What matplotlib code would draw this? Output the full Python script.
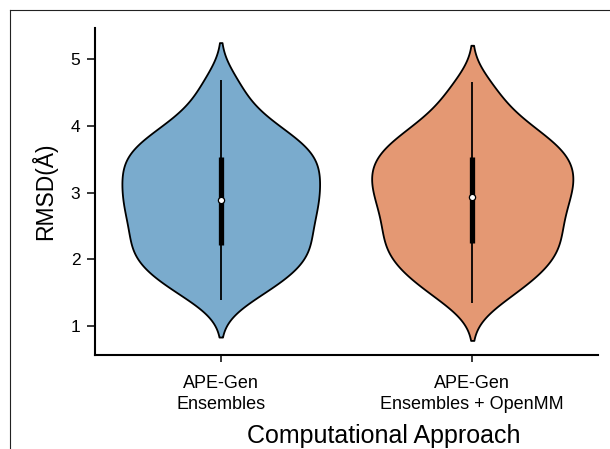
import numpy as np
import matplotlib
matplotlib.use('Agg')
import matplotlib.pyplot as plt
from matplotlib.lines import Line2D

categories = ['APE-Gen\nEnsembles', 'APE-Gen\nEnsembles + OpenMM']

# RMSD values (Å) per approach
rmsd_ensembles = [1.39, 1.54, 1.65, 1.74, 1.82, 1.90, 1.97, 2.04, 2.11, 2.17,
                  2.22, 2.31, 2.38, 2.44, 2.51, 2.58, 2.65, 2.71, 2.77, 2.84,
                  2.89, 2.96, 3.02, 3.08, 3.15, 3.21, 3.27, 3.33, 3.39, 3.45,
                  3.53, 3.58, 3.64, 3.70, 3.77, 3.85, 3.94, 4.05, 4.19, 4.40,
                  4.69]
rmsd_openmm = [1.34, 1.51, 1.63, 1.73, 1.82, 1.90, 1.97, 2.05, 2.12, 2.19,
               2.25, 2.32, 2.39, 2.46, 2.53, 2.60, 2.67, 2.73, 2.80, 2.87,
               2.93, 2.99, 3.05, 3.11, 3.17, 3.23, 3.29, 3.35, 3.41, 3.47,
               3.53, 3.59, 3.65, 3.72, 3.79, 3.87, 3.96, 4.07, 4.21, 4.40,
               4.65]

colors = ['#7aabcd', '#e49873']
bw = 0.278
cut = 2
width = 0.8

plt.rcParams['font.family'] = ['Liberation Sans', 'DejaVu Sans']


def kde(values, grid):
    values = np.asarray(values)
    z = (grid[:, None] - values[None, :]) / bw
    return np.exp(-0.5 * z ** 2).sum(axis=1) / (len(values) * bw * np.sqrt(2 * np.pi))


groups = [rmsd_ensembles, rmsd_openmm]
curves = []
for vals in groups:
    grid = np.linspace(min(vals) - cut * bw, max(vals) + cut * bw, 300)
    curves.append((grid, kde(vals, grid)))
peak = max(d.max() for g, d in curves)

fig, ax = plt.subplots(figsize=(6.1, 4.49), dpi=100)
fig.subplots_adjust(left=95 / 610, right=598 / 610, bottom=1 - 355 / 449, top=1 - 28.3 / 449)

for i, ((grid, dens), vals) in enumerate(zip(curves, groups)):
    half = dens / peak * width / 2
    ax.fill_betweenx(grid, i - half, i + half, facecolor=colors[i],
                     edgecolor='black', linewidth=1.3, zorder=1)
    q1, med, q3 = np.percentile(vals, [25, 50, 75])
    ax.vlines(i, min(vals), max(vals), color='black', linewidth=1.3, zorder=2)
    ax.vlines(i, q1, q3, color='black', linewidth=3.8, zorder=2)
    ax.scatter([i], [med], s=20, color='white', edgecolors='black',
               linewidths=0.9, zorder=3)

ax.set_xlim(-0.5, 1.5)
ax.set_ylim(0.5655, 5.46)
ax.set_xticks([0, 1])
ax.set_xticklabels(categories, fontsize=13, linespacing=1.28)
ax.set_yticks([1, 2, 3, 4, 5])
ax.tick_params(axis='y', labelsize=12.5, length=5.5, width=1.1, pad=5)
ax.tick_params(axis='x', length=5, width=1.1, pad=9.5)
for side in ['top', 'right']:
    ax.spines[side].set_visible(False)
for side in ['left', 'bottom']:
    ax.spines[side].set_linewidth(1.5)

ax.set_ylabel('RMSD(Å)', fontsize=16.5)
ax.yaxis.set_label_coords(-0.0746, 0.5)
ax.set_xlabel('Computational Approach', fontsize=18, va='baseline')
ax.xaxis.set_label_coords(0.5736, -0.269)

# frame line from the cropped original
fx = 9.5 / 610
fy = 1 - 9.5 / 449
fig.add_artist(Line2D([fx, fx], [0, fy], transform=fig.transFigure, color='#222222', linewidth=0.8))
fig.add_artist(Line2D([fx, 1], [fy, fy], transform=fig.transFigure, color='#222222', linewidth=0.8))

plt.savefig('out.png')
